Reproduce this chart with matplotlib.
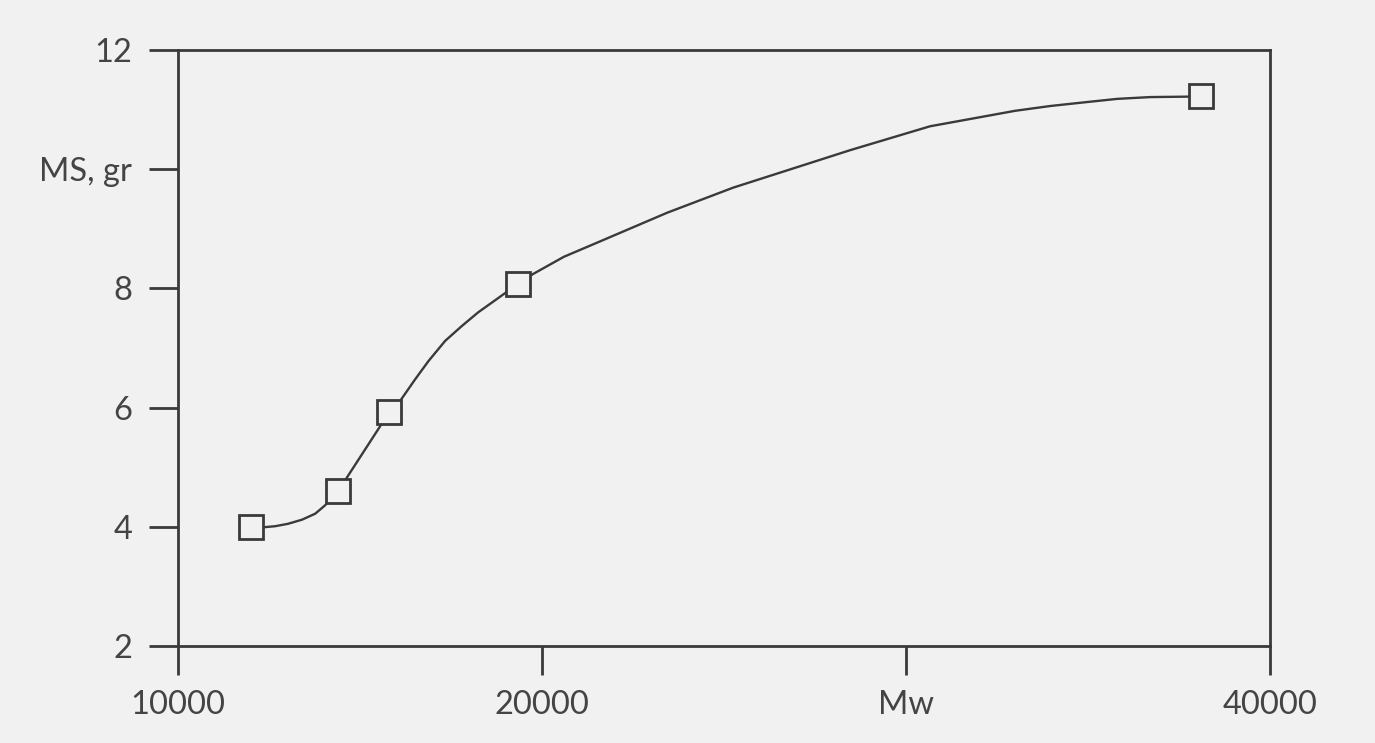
import numpy as np
import matplotlib
matplotlib.use("Agg")
import matplotlib.pyplot as plt

# measured points (open squares)
mw = [12000, 14400, 15800, 19350, 38100]
ms = [4.0, 4.6, 5.92, 8.08, 11.22]

curve_mw = [12310, 12670, 13020, 13410, 13770, 14040,
            16100, 16510, 16880, 17340, 17800, 18250, 18710, 19750,
            20600, 21600, 23440, 25250, 27090, 28470, 30660,
            33000, 33960, 34870, 35800, 36710]
curve_ms = [3.99, 4.01, 4.05, 4.12, 4.22, 4.36,
            6.11, 6.47, 6.78, 7.12, 7.37, 7.60, 7.80, 8.24,
            8.53, 8.79, 9.27, 9.69, 10.05, 10.32, 10.72,
            10.98, 11.06, 11.12, 11.18, 11.21]

x_ticks = [10000, 20000, 30000, 40000]
x_labels = ["10000", "20000", "Mw", "40000"]
y_ticks = [2, 4, 6, 8, 10, 12]
y_labels = ["2", "4", "6", "8", "MS, gr", "12"]

ink = "#3a3a3a"
paper = "#f1f1f1"
plt.rcParams['font.family'] = ['Lato', 'DejaVu Sans']

fig = plt.figure(figsize=(13.75, 7.43), dpi=100, facecolor=paper)
ax = fig.add_axes([178/1375, 97/743, 1092/1375, 596/743], facecolor=paper)

# line through squares and traced points
lx = np.array(mw + curve_mw)
ly = np.array(ms + curve_ms)
order = np.argsort(lx)
ax.plot(lx[order], ly[order], color=ink, lw=1.7, zorder=2,
        solid_joinstyle="round", solid_capstyle="round")
ax.plot(mw, ms, ls="none", marker="s", ms=17, mfc=paper, mec=ink, mew=2.0,
        zorder=3, clip_on=False)

ax.set_xlim(10000, 40000)
ax.set_ylim(2, 12)
ax.set_xticks(x_ticks)
ax.set_xticklabels(x_labels)
ax.set_yticks(y_ticks)
ax.set_yticklabels(y_labels)

for s in ax.spines.values():
    s.set_linewidth(2.0)
    s.set_color(ink)
ax.tick_params(axis="both", direction="out", length=21, width=2.0,
               color=ink, labelcolor="#444444", labelsize=23.5)
ax.tick_params(axis="x", pad=11)
ax.tick_params(axis="y", pad=12)

fig.savefig("out.png", dpi=100, facecolor=paper)
